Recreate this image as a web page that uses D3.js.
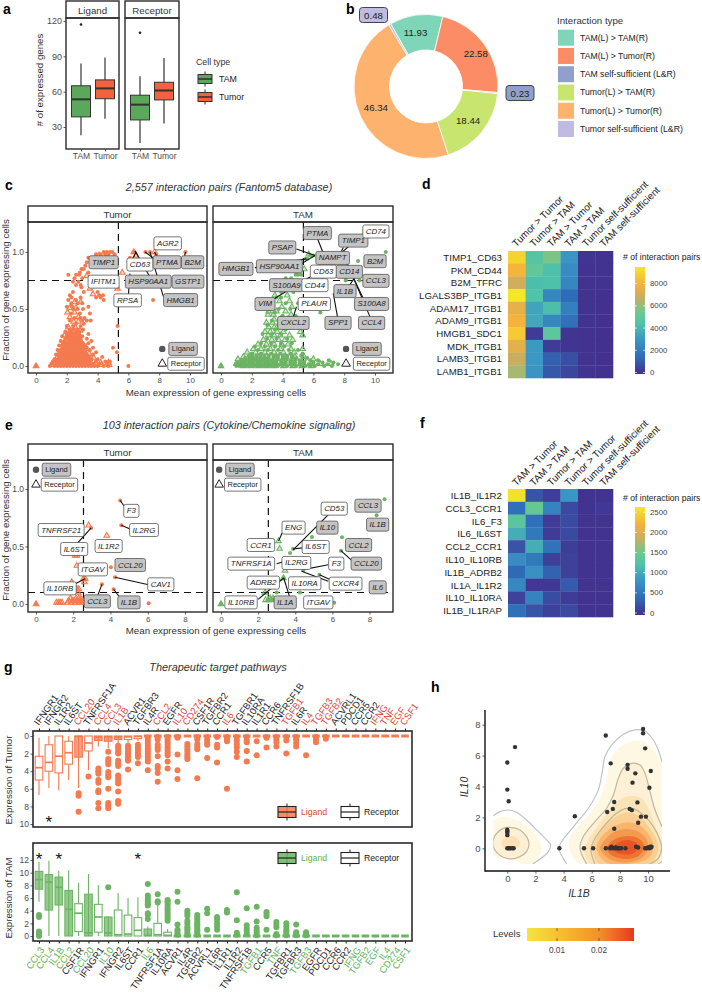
<!DOCTYPE html>
<html><head><meta charset="utf-8">
<script src="https://cdn.jsdelivr.net/npm/d3@7/dist/d3.min.js"></script>
<style>
html,body{margin:0;padding:0;background:#fff}
svg{display:block}
text{font-family:"Liberation Sans",Arial,sans-serif}
</style></head><body><div id="c"></div>
<script>
/* ---------- panel a ---------- */
const cellTypes=["TAM","Tumor"];
const geneKinds=["Ligand","Receptor"];
const boxesA={Ligand:[[23,38.6,53.5,65,84,[117]],[37,54,62.8,70,89,[]]],Receptor:[[16.5,36,49,57,73,[110]],[33,53,61,68,88.5,[]]]};
/* ---------- panel b ---------- */
const interactionTypes=["TAM(L) > TAM(R)","TAM(L) > Tumor(R)","TAM self-sufficient (L&R)","Tumor(L) > TAM(R)","Tumor(L) > Tumor(R)","Tumor self-sufficient (L&R)"];
const interactionValues=[11.93,22.58,0.23,18.44,46.34,0.48];
const interactionColors=["#7fd5b7","#fb8c66","#8fa1cb","#c8e66f","#fdb26e","#bfbbe1"];
/* ---------- panel c points: [y,[x...]] rows ---------- */
const cTumorLigand=[[1.0,[4.4,4.6,4.8,4.95,6.35,7.1,7.4,9.7]],[.98,[3.9,4.2,4.5,4.7,5.1,7.8]],[.95,[3.4,3.7,4.0,6.1]],[.91,[3.3,3.55]],[.88,[3.2]],[.85,[2.95,3.1]],[.82,[2.85,3.4]],[.8,[2.1,2.6,2.8]],[.77,[2.5,3.0]],[.74,[2.4,2.75]],[.71,[2.6,2.9]],[.69,[2.95,5.3]],[.65,[3.1,2.4,4.0]],[.62,[2.2,4.1,4.35]],[.6,[2.9,2.3,3.9,4.2]],[.58,[2.6,2.1,4.4,7.6]],[.55,[3.0,2.3,2.7]],[.52,[2.0,2.35,3.4]],[.5,[2.7,3.05,2.4]],[.46,[2.3,2.85,3.5]],[.42,[2.5,2.9,3.15]],[.4,[2.2,3.0,3.3,3.55]],[.37,[2.6,3.1]],[.35,[2.0,2.4,2.9,5.3]],[.32,[2.2,2.4,2.7,3.05]],[.3,[1.9,2.15,2.3,2.6,2.8]],[.28,[2.0,2.2,2.4,2.6,2.8,3.4]],[.26,[1.7,2.0,2.2,2.4,2.6,2.8,3.0]],[.24,[1.9,2.1,2.3,2.5,2.7,2.9,3.3]],[.22,[1.6,1.85,2.1,2.3,2.5,2.7,2.9,3.6]],[.2,[1.8,2.0,2.2,2.4,2.6,2.8,3.05,3.4]],[.18,[1.5,1.7,1.9,2.15,2.4,2.6,2.8,3.0,3.2]],[.16,[1.7,1.9,2.1,2.3,2.5,2.7,2.9,3.1,3.3,3.7,5.0]],[.14,[1.4,1.6,1.8,2.0,2.2,2.4,2.6,2.8,3.0,3.2,3.5]],[.12,[1.6,1.8,2.0,2.2,2.4,2.6,2.85,3.0,3.2,3.9,5.25]],[.1,[1.3,1.5,1.7,1.9,2.1,2.3,2.5,2.7,2.9,3.1,3.3,3.7]],[.08,[1.5,1.7,1.9,2.1,2.3,2.5,2.7,2.9,3.1,3.3,3.5,4.3]],[.06,[1.2,1.4,1.6,1.8,2.0,2.2,2.4,2.6,2.8,3.0,3.2,3.4,3.6,4.0]],[.04,[1.1,1.3,1.5,1.7,1.9,2.1,2.3,2.5,2.7,2.9,3.1,3.3,3.5,3.9,4.5,4.8]],[.02,[1.0,1.3,1.5,1.7,1.9,2.1,2.3,2.5,2.7,2.9,3.1,3.3,3.5,3.7,4.1,4.6]],[0,[0,.9,1.2,1.4,1.6,1.8,2.0,2.2,2.4,2.6,2.8,3.0,3.2,3.4,3.6,3.8,4.0,4.4,4.7,6.0]]];
const cTumorReceptor=[[1.0,[6.35,7.7]],[.97,[4.1,6.5]],[.82,[5.6]],[.79,[3.3]],[.68,[3.5,5.3]],[.63,[3.7]],[.56,[2.5,2.9]],[.51,[2.2,2.6]],[.47,[2.05,2.5]],[.43,[2.2,2.75]],[.39,[2.45,2.75]],[.34,[2.1,2.55]],[.31,[2.45,2.85]],[.27,[1.85,2.5]],[.23,[2.05,2.45,2.85]],[.19,[1.75,2.25,2.7,3.0]],[.15,[1.95,2.35,2.75,3.15]],[.11,[1.5,1.85,2.3,2.65,3.05,3.45]],[.07,[1.35,1.75,2.15,2.55,2.95,3.35,3.75]],[.03,[1.2,1.6,2.0,2.4,2.75,3.15,3.55,4.2,4.7]],[.01,[1.05,1.45,1.85,2.25,2.65,3.0,3.4,3.8,4.25,4.75]],[0,[0]]];
const cTamLigand=[[1.0,[10.7]],[.97,[6.0,5.8]],[.94,[5.6,5.5]],[.92,[8.9]],[.8,[5.2,5.0,4.85]],[.77,[4.2,4.55,8.1]],[.75,[9.0,8.1]],[.72,[4.5,4.0]],[.65,[3.9,4.7]],[.6,[3.6,3.9]],[.55,[4.2,5.0]],[.5,[3.75,4.5]],[.47,[6.45,3.5]],[.44,[4.0,4.85]],[.4,[3.3,4.1]],[.36,[3.0,3.7,4.5]],[.32,[3.5,4.2]],[.28,[2.7,3.3,3.9]],[.24,[3.0,3.6,4.3]],[.2,[2.6,3.25,3.9,4.6]],[.17,[2.2,2.85,3.5,4.1]],[.14,[2.4,3.05,3.7,4.4,5.0]],[.11,[2.0,2.6,3.25,3.85,4.5,5.3]],[.09,[1.8,2.05,2.3,2.55,2.8,3.1,3.4,3.7,4.0,4.3,4.6,5.2]],[.07,[1.6,1.85,2.1,2.35,2.6,2.85,3.1,3.4,3.7,4.0,4.3,4.6,4.9,5.6]],[.05,[1.3,1.55,1.8,2.05,2.3,2.55,2.8,3.05,3.3,3.6,3.9,4.2,4.5,4.8,5.1,5.8,6.3,7.0]],[.03,[1.1,1.35,1.6,1.85,2.1,2.35,2.6,2.85,3.1,3.35,3.6,3.9,4.2,4.5,4.8,5.1,5.4,6.0,6.6,7.3,9.0]],[.015,[.95,1.2,1.4,1.65,1.9,2.15,2.4,2.65,2.9,3.15,3.4,3.65,3.9,4.2,4.5,4.8,5.1,5.4,5.7,6.3,6.9,7.6]],[0,[0,1.0,1.2,1.45,1.7,1.95,2.2,2.45,2.7,2.95,3.2,3.45,3.7,4.0,4.3,4.6,4.9,5.2,5.5,5.8,6.1,6.7,7.2]]];
const cTamReceptor=[[.98,[5.7]],[.85,[4.9,5.4]],[.72,[3.4,3.7]],[.62,[4.3,3.5]],[.57,[3.8,4.45]],[.52,[3.2,3.95,4.6]],[.48,[3.1,3.6,4.2]],[.45,[3.05,3.4,4.55]],[.41,[3.45,3.85,4.3]],[.38,[2.95,3.35,3.95]],[.34,[3.1,3.45,3.85,4.3,5.2]],[.3,[2.85,3.2,3.65,4.05,5.15]],[.27,[3.05,3.45,3.85,4.45,5.3]],[.23,[2.75,3.3,3.75,4.15,4.65]],[.19,[2.4,2.95,3.45,3.95,4.35]],[.15,[2.1,2.6,3.2,3.85,4.55,5.3]],[.12,[1.7,2.25,2.85,3.45,4.05,4.75]],[.08,[1.45,1.95,2.45,2.95,3.55,4.15,4.8,5.4]],[.06,[1.1,1.55,2.05,2.55,3.05,3.55,4.15,4.7,5.35,6.0]],[.02,[1.0,1.5,2.0,2.5,3.0,3.5,4.0,4.65,5.25,5.85,6.45,7.15]],[0,[0,1.45,1.95,2.45,2.95,3.45,4.05,4.65,5.25,5.85]]];
/* ---------- panel c labels ---------- */
const cTumorLabels=[["TIMP1",4.39,.91,1],["CD63",6.75,.89,0],["PTMA",8.51,.91,1],["B2M",10.17,.91,1],["AGR2",8.55,1.076,0],["IFITM1",4.39,.74,0],["HSP90AA1",7.29,.74,1],["GSTP1",9.87,.74,1],["RPSA",5.95,.576,0],["HMGB1",9.39,.578,1]];
const cTumorLinks=[[6.43,1.01,7.4,.78],[7.4,1.0,8.27,.61],[7.08,1.0,7.8,.93],[6.5,1.0,6.2,.92],[6.1,.81,6.0,.62],[9.72,1.0,9.6,.95],[7.7,1.0,8.0,.92]];
const cTamLabels=[["PTMA",6.26,1.166,1],["TIMP1",8.59,1.1,1],["CD74",10.06,1.18,0],["PSAP",3.98,1.04,1],["NAMPT",7.25,.948,1],["HSP90AA1",3.79,.875,1],["HMGB1",.97,.852,1],["B2M",10,.919,1],["CD63",6.65,.828,0],["CD14",8.33,.826,1],["CCL3",10.06,.747,1],["S100A9",4.26,.709,1],["CD44",6.1,.709,0],["IL1B",8.05,.657,1],["S100A8",9.78,.544,1],["VIM",2.86,.544,1],["PLAUR",6.06,.544,0],["CXCL2",4.7,.378,1],["SPP1",7.6,.378,1],["CCL4",9.78,.378,1]];
const cTamLinks=[[6.26,1.12,6.65,.985],[9.24,1.16,7.5,.956],[4.9,1.026,6.1,.97],[5.24,.898,6.1,.97],[2.2,.863,5.56,.94],[2.97,.55,5.78,.78],[8.16,.913,9.67,.433],[8.16,.898,9.24,.593],[7.29,.637,7.58,.42],[7.94,1.04,7.62,.95],[8.3,.7,8.7,.78],[4.7,.433,4.9,.52]];
/* ---------- panel e ---------- */
const eTumorLigand=[[.9,[4.52]],[.684,[4.58]],[.661,[2.96]],[.319,[4.02]],[.232,[4.24]],[.171,[3.54]],[.128,[4.17]],[.006,[6.05]],[0,[0]]];
const eTumorReceptor=[[.684,[2.82]],[.594,[3.8]],[.42,[2.1,2.2]],[.333,[2.19]],[.22,[2.64,2.55]],[.19,[1.92,2.6]],[.13,[2.3,2.2]],[.1,[2.25]],[.05,[1.85,2.15,2.3,2.4]],[.03,[1.75,1.95,2.05,2.2,2.35,2.5]],[.012,[1.1,1.2,1.3,1.4,1.7,1.9,2.1,2.3,2.45,2.55]],[0,[0]]];
const eTumorLabels=[["F3",5.12,.81,0],["TNFRSF21",1.35,.643,0],["IL2RG",5.8,.643,0],["IL6ST",2.05,.478,0],["IL1R2",3.9,.504,0],["CCL20",5.06,.339,1],["ITGAV",3.05,.301,0],["CAV1",6.7,.171,0],["IL10RB",1.29,.136,0],["CCL3",3.29,.023,1],["IL1B",4.99,.014,1]];
const eTumorLinks=[[4.52,.9,4.74,.85],[4.58,.684,5.15,.646],[2.96,.661,2.23,.53],[4.24,.232,6.05,.168],[3.54,.171,3.3,.067],[4.17,.128,4.52,.052],[2.64,.22,1.92,.16]];
const eTamLigand=[[.91,[8.81]],[.771,[8.38]],[.58,[6.52]],[.583,[4.9]],[.464,[6.46]],[.478,[3.88]],[.443,[3.72]],[.293,[4.43]],[.255,[5.3]],[.226,[3.38]],[.1,[4.25,3.0]],[.04,[2.8]],[.01,[6.1]],[0,[0]]];
const eTamReceptor=[[.548,[3.1]],[.481,[3.16]],[.29,[3.45]],[.226,[3.36]],[.1,[2.37]],[.05,[2.65,2.8]],[.035,[2.4,2.55,2.7]],[0,[0]]];
const eTamLabels=[["CD53",6.1,.829,0],["CCL3",7.92,.855,1],["IL1B",8.44,.69,1],["ENG",3.91,.664,0],["IL10",5.73,.664,1],["CCR1",2.15,.513,0],["IL6ST",5.1,.496,0],["CCL2",7.41,.513,1],["TNFRSF1A",1.63,.351,0],["IL2RG",4.06,.357,0],["F3",6.21,.351,0],["CCL20",7.83,.351,1],["ADRB2",2.28,.186,0],["IL10RA",4.51,.18,0],["CXCR4",6.71,.177,0],["IL6",8.44,.145,1],["IL10RB",1.08,.014,0],["IL1A",3.46,.014,1],["ITGAV",5.24,.014,0]];
const eTamLinks=[[5.96,.806,3.9,.473],[3.3,.62,3.1,.548],[4.5,.49,3.88,.478],[5.78,.342,4.43,.299],[5.87,.212,5.3,.255],[4.34,.284,5.78,.197],[2.0,.04,3.38,.226],[6.46,.464,7.04,.38],[3.0,.35,3.4,.37],[3.7,.06,3.38,.226]];
/* ---------- panels d, f ---------- */
const dRows=["TIMP1_CD63","PKM_CD44","B2M_TFRC","LGALS3BP_ITGB1","ADAM17_ITGB1","ADAM9_ITGB1","HMGB1_SDC1","MDK_ITGB1","LAMB3_ITGB1","LAMB1_ITGB1"];
const dCols=["Tumor > Tumor","Tumor > TAM","TAM > Tumor","TAM > TAM","Tumor self-sufficient","TAM self-sufficient"];
const dValues=[[9000,4800,5700,3000,150,100],[8100,5100,4400,2700,100,100],[7000,4300,4400,2500,100,100],[9500,4500,2500,1500,100,50],[7600,3500,4300,2200,100,50],[8000,3600,2500,1700,100,50],[8700,300,5000,150,100,50],[7500,3200,300,150,100,50],[6800,3100,1200,800,100,50],[6300,3000,1000,600,100,50]];
const fRows=["IL1B_IL1R2","CCL3_CCR1","IL6_F3","IL6_IL6ST","CCL2_CCR1","IL10_IL10RB","IL1B_ADRB2","IL1A_IL1R2","IL10_IL10RA","IL1B_IL1RAP"];
const fCols=["TAM > Tumor","TAM > TAM","Tumor > TAM","Tumor > Tumor","Tumor self-sufficient","TAM self-sufficient"];
const fValues=[[2600,250,100,850,30,30],[450,1450,650,180,30,60],[1350,450,80,200,30,30],[1050,550,80,180,30,30],[250,1050,480,100,30,30],[750,550,120,120,30,30],[400,800,350,120,30,30],[700,60,60,300,30,30],[130,650,200,90,30,30],[450,250,120,180,30,30]];
const parulaFractions=[0,.16,.32,.47,.58,.71,.84,1];
const parulaColors=["#432f8e","#2f6db8","#3a95c4","#4fc3a9","#6dc98d","#c8ae62","#f5b13c","#f4e629"];
/* ---------- panel g ---------- */
const gTopNames=["IFNGR1","IFNGR2","IL1R2","IL6ST","CCL20","TNFRSF1A","CCL4","CCL3","IL1B","ACVR1","TGFBR3","IL4R","CCL2","EGFR","IL10","CD274","CSF1R","TGFBR2","CCR1","IL6","TGFBR1","IL10RA","IL1R1","CCR6","TNFRSF1B","TGFB1","IL6R","IL4","TGFB3","TGFB2","ACVRL1","PDCD1","CCR5","CCR2","IFNG","TNF","EGF","CSF1"];
const gTopLigands=["CCL20","CCL4","CCL3","IL1B","CCL2","IL10","CD274","IL6","TGFB1","IL4","TGFB3","TGFB2","IFNG","TNF","EGF","CSF1"];
/* each: [lo,q1,median,q3,hi,[outliers]] */
const gTopBoxes=[[.2,2.3,3.6,5,6.7,[]],[0,1,3,4,5.9,[]],[0,0,2.3,4.2,6.2,[]],[0,.6,1.9,3.2,5,[]],[0,0,.05,2.4,5.9,[6.5,6.8,8.6]],[0,0,.8,1.7,3.9,[4.6]],[0,0,.1,.5,1.2,[3.7,4,4.3,5,5.3,6.2,6.4,7.6,8.2]],[0,0,.1,.6,1.4,[1.8,2.6,2.9,3.2,4.1,4.4,4.7,6,7.6,7.9,8.2]],[0,0,.1,.4,.8,[1.1,1.4,1.7,2,2.8,3.1,3.4,4.5,4.8,5.1,5.4,6.3,7.4,7.7]],[0,0,.1,.4,.9,[1.1,1.4,1.7,2,2.3,2.6,2.8,3.8]],[0,0,.05,.3,.6,[1,1.3,1.6,1.9,2.2,2.4,3.1]],[0,0,0,0,0,[.2,.5,.8,1.1,1.4,1.7,2,2.3,2.6,2.9,3.9]],[0,0,0,0,0,[.1,.4,1,1.3,1.6,2.3,3.4,3.7,4.2,5.2]],[0,0,0,0,0,[.1,.4,.7,1,1.3,1.6,1.9,2.2,2.9,3.7]],[0,0,0,0,0,[.1,.2,2.1,3.9,4.9]],[0,0,0,0,0,[.9,1.2,1.5,1.8,2.1,2.4,2.6]],[0,0,0,0,0,[.1,.4,.9,1.2,1.5,4.8]],[0,0,0,0,0,[.1,.4,.7,1,2.5]],[0,0,0,0,0,[.1,1,1.3,3]],[0,0,0,0,0,[.1,.4,.6,6]],[0,0,0,0,0,[.1,.5,.9,1.3,1.8,2.4]],[0,0,0,0,0,[.1,.5,.7,1.7,2.9]],[0,0,0,0,0,[.6,2.2]],[0,0,0,0,0,[.1,.2,1.3]],[0,0,0,0,0,[.1,.4,.7,1.2]],[0,0,0,0,0,[.1,.5,2]],[0,0,0,0,0,[.1,.4,.8,1.2]],[0,0,0,0,0,[2.2]],[0,0,0,0,0,[.1,.4,.7]],[0,0,0,0,0,[.1,.3]],[0,0,0,0,0,[]],[0,0,0,0,0,[]],[0,0,0,0,0,[]],[0,0,0,0,0,[]],[0,0,0,0,0,[]],[0,0,0,0,0,[]],[0,0,0,0,0,[]],[0,0,0,0,0,[]]];
const gBottomNames=["CCL3","CCL4","IL1B","CCL2","CSF1R","CCL20","IFNGR1","IL10","IFNGR2","IL6ST","CCR1","IL6","TNFRSF1A","IL10RA","ACVR1","IL4R","TGFBR2","ACVRL1","IL6R","IL1R1","IL1R2","TNFRSF1B","TGFB1","CCR5","TNF","TGFBR1","TGFBR3","TGFB3","EGFR","PDCD1","CCR6","CCR2","IFNG","TGFB2","EGF","IL4","CD274","CSF1"];
const gBottomLigands=["CCL3","CCL4","IL1B","CCL2","CCL20","IL10","IL6","TGFB1","TNF","TGFB3","IFNG","TGFB2","EGF","IL4","CD274","CSF1"];
const gBottomBoxes=[[5.4,7.4,8.9,10.2,11.7,[3,3.3,0,.3,.7]],[0,4.1,8.5,9.7,11.9,[]],[0,4.9,7.7,9.3,10.3,[]],[0,0,4.2,7.2,10.4,[]],[0,.7,3.6,5.1,8.4,[]],[0,0,.5,6.6,9.8,[]],[0,.6,3,5,8,[]],[0,0,.5,3,3.1,[7.7]],[0,0,.2,4.1,6.8,[]],[0,0,.3,3.3,6,[]],[0,0,.9,2.9,6.1,[]],[0,0,.1,1.1,1.5,[2.7,3.3,3.6,4.8,5,5.3,5.6,6,6.4,8.2]],[0,0,.2,2,4.9,[5.3,5.5,6.6]],[0,0,.1,.6,1.1,[2.4,2.8,3.2,3.6,4,4.4,4.8,5.2,5.5,5.7]],[0,0,0,0,0,[.2,.4,.8,1,1.8,5.4,7]],[0,0,0,0,0,[.2,.5,.9,1.2,1.5,2,2.4,3.2,3.6,4]],[0,0,0,0,0,[.2,.4,.7,1,1.3,1.6,1.9,2.2,2.6,3,3.3]],[0,0,0,0,0,[1,3.6,4.3]],[0,0,0,0,0,[1,1.5,2,2.6,3]],[0,0,0,0,0,[3.7,4.1]],[0,0,0,0,0,[.2,.5,2.5,6.9]],[0,0,0,0,0,[.3,.8,1.2,1.7,4.4]],[0,0,0,0,0,[.1,.5,.9,1.3,2.3,4.6]],[0,0,0,0,0,[1,3.1,3.5,3.8]],[0,0,0,0,0,[.1,.3,1.4,1.8,2.2]],[0,0,0,0,0,[.1,.3,.7,1,1.5,2]],[0,0,0,0,0,[.1,.3,.6,1.8]],[0,0,0,0,0,[.1,.3,.6]],[0,0,0,0,0,[]],[0,0,0,0,0,[]],[0,0,0,0,0,[]],[0,0,0,0,0,[]],[0,0,0,0,0,[]],[0,0,0,0,0,[]],[0,0,0,0,0,[]],[0,0,0,0,0,[]],[0,0,0,0,0,[]],[0,0,0,0,0,[]]];
/* ---------- panel h ---------- */
const hPoints=[[0,0],[.1,0],[.2,0],[.35,0],[.45,0],[0,.85],[0,1],[0,1.1],[0,1.2],[.1,3.05],[0,3.8],[0,5.55],[.55,6.55],[3.7,0],[4.8,2.07],[5.45,0],[6.1,0],[7,0],[7,7.3],[7.35,5.5],[7.1,2.35],[7.5,2.55],[7.6,3],[7.6,1.27],[8.55,5.4],[8.55,5.15],[9.1,4.85],[8.9,4.25],[9.25,2.97],[8.7,2.55],[8.85,2.47],[9.3,1.65],[9.5,2.05],[9.85,2.05],[9.65,7.72],[9.65,7.45],[9.8,6.47],[10.2,5],[10.1,3.92],[7.3,0],[7.4,.1],[7.45,0],[7.6,0],[7.7,.05],[7.8,0],[7.9,0],[8,0],[8.1,0],[8.4,0],[9.15,.1],[9.3,.05],[9.8,0],[9.9,0],[10,.05],[10.1,0],[10.15,.1],[10.2,.05],[10.25,.1]];
/* density bands, in IL1B / IL10 units */
const hBands=[
 [[-1,1.73],[-.4,2.03],[.31,1.94],[1.14,1.62],[1.85,1.08],[2.32,.43],[2.44,0],[2.2,-.54],[1.73,-.97],[1.02,-1.05],[.78,-.86],[.07,-.69],[-1,-.43]],
 [[-1,.54],[-.76,.97],[-.28,1.29],[.31,1.34],[.9,1.19],[1.37,.76],[1.54,.32],[1.37,-.22],[.9,-.54],[.31,-.69],[-.28,-.58],[-.76,-.26],[-1,.11]],
 [[-.4,.32],[-.21,.65],[.26,.8],[.66,.69],[.9,.32],[.71,0],[.26,-.17],[-.21,-.04]],
 [[5.17,-1.05],[4.34,.32],[4.81,1.19],[5.76,2.16],[6.59,3.24],[7.06,4.53],[7.3,5.61],[7.77,6.36],[8.48,6.8],[9.31,6.97],[9.91,6.8],[10.38,6.36],[10.73,5.93],[11.1,5.4],[11.2,2],[11.2,-1.2]],
 [[5.64,-1.05],[5.17,0],[5.4,.76],[6.23,1.73],[7.06,2.59],[7.54,3.45],[7.89,4.53],[8.25,5.18],[8.84,5.5],[9.43,5.39],[9.79,4.85],[10.14,3.67],[10.5,2.48],[10.85,1.6],[11.2,1.2],[11.3,-.5],[11,-1.2]],
 [[6,-1.05],[5.47,-.22],[5.64,.32],[6.47,1.51],[7.42,2.59],[8.13,3.24],[8.84,3.39],[9.55,3.24],[10.02,2.59],[10.38,1.73],[10.85,.65],[10.97,0],[10.85,-.65],[10.5,-1.05]],
 [[6.11,-.43],[6.11,.11],[6.59,1.08],[7.54,1.94],[8.48,2.33],[9.43,2.05],[10.14,1.29],[10.62,.54],[10.73,0],[10.5,-.65],[10.02,-1.05],[6.59,-1.05]],
 [[6.35,0],[6.71,.76],[7.54,1.4],[8.48,1.68],[9.43,1.47],[10.14,.76],[10.38,.11],[10.14,-.54],[9.55,-.86],[8.48,-1.01],[7.18,-.97],[6.59,-.54]],
 [[6.59,0],[6.94,.54],[7.65,1.08],[8.48,1.25],[9.31,1.08],[9.91,.54],[10.02,0],[9.67,-.54],[8.96,-.86],[8.01,-.91],[7.18,-.65]],
 [[7.06,0],[7.54,.54],[8.48,.8],[9.31,.65],[9.74,.11],[9.43,-.43],[8.6,-.69],[7.77,-.6],[7.23,-.32]],
 [[7.54,.11],[8.01,.43],[8.6,.54],[9.19,.32],[9.31,0],[8.84,-.37],[8.13,-.37],[7.65,-.22]]
];
const hBandColors=["#fef8e2","#fdf0d6","#fde0b6","#fef8e2","#fdf0d6","#fbe3b8","#fbcf93","#f9b56c","#f49a50","#ef7330","#e95426"];
const hOutlines=[
 [[-1,2.11],[-.52,2.37],[.07,2.48],[.66,2.33],[1.37,1.83],[2.09,1.19],[2.8,.54],[3.08,.22],[2.91,-.22],[2.32,-.71],[1.78,-1.01]],
 [[4.22,-1.01],[3.67,0],[3.86,.43],[4.81,1.51],[5.76,2.59],[6.47,3.78],[6.75,4.96],[6.94,5.93],[7.42,6.69],[8.25,7.38],[9.08,7.66],[9.79,7.59],[10.38,7.01],[10.73,6.36],[11,5.6]],
 [[10.73,-1.01],[11,-.86]]
];
const hInnerLines=[
 [[-1,.54],[-.76,.97],[-.28,1.29],[.31,1.34],[.9,1.19],[1.37,.76],[1.54,.32],[1.37,-.22],[.9,-.54],[.31,-.69],[-.28,-.58],[-.76,-.26],[-1,.11]],
 [[5.64,-1.01],[5.17,0],[5.4,.76],[6.23,1.73],[7.06,2.59],[7.54,3.45],[7.89,4.53],[8.25,5.18],[8.84,5.5],[9.43,5.39],[9.79,4.85],[10.14,3.67],[10.5,2.48],[11,1.4]],
 [[6.23,-1.01],[5.95,-.11],[6.23,.65],[6.94,1.51],[7.77,2.27],[8.48,2.59],[9.08,2.52],[9.79,2.05],[10.38,1.4],[10.85,.54],[10.97,0],[10.73,-.65],[10.14,-1.01]]
];

/* ========== drawing ========== */
const W=702,H=994;
const svg=d3.select("#c").append("svg").attr("width",W).attr("height",H).attr("viewBox",`0 0 ${W} ${H}`);
const dark="#2b2b2b", tickGrey="#4d4d4d";
const expand=rows=>rows.flatMap(([y,xs])=>xs.map(x=>[x,y]));
function txt(g,x,y,s,o={}){const t=g.append("text").attr("x",x).attr("y",y).text(s).attr("font-size",o.size||9).attr("fill",o.fill||"#222").attr("text-anchor",o.anchor||"start").attr("dominant-baseline","central");
 if(o.italic)t.attr("font-style","italic"); if(o.weight)t.attr("font-weight",o.weight); if(o.rot!==undefined)t.attr("transform",`rotate(${o.rot},${x},${y})`); return t;}
function styleAxis(a,size){a.select(".domain").remove();a.selectAll(".tick line").attr("stroke","#333").attr("stroke-width",.8);a.selectAll(".tick text").attr("font-size",size||8).attr("fill",tickGrey).attr("font-family",'"Liberation Sans",Arial,sans-serif');}
function frame(g,x0,x1,y0,y1,sw){g.append("rect").attr("x",x0).attr("y",y0).attr("width",x1-x0).attr("height",y1-y0).attr("fill","none").attr("stroke",dark).attr("stroke-width",sw||1.4);}
[["a",3,9],["b",346,9],["c",5,185],["d",422,184],["e",5,425],["f",420,423],["g",4,667],["h",431,687]].forEach(([s,x,y])=>txt(svg,x,y,s,{size:14,weight:"bold",fill:"#000",anchor:"start"}));

/* panel a */
(function(){
 const g=svg.append("g");
 const y=d3.scaleLinear().domain([30,120]).range([127,21]);
 const panels=[["Ligand",66,119],["Receptor",125,179]];
 const col={TAM:"#5aa85a",Tumor:"#f2623c"};
 panels.forEach(([name,x0,x1],pi)=>{
  const x=d3.scalePoint().domain(cellTypes).range([x0+15,x0+39]);
  frame(g,x0,x1,1,18); frame(g,x0,x1,18,149);
  txt(g,(x0+x1)/2,10,name,{size:9.7,anchor:"middle",fill:"#333"});
  g.append("g").attr("transform","translate(0,149)").call(d3.axisBottom(x).tickSize(2.5).tickPadding(1.5)).call(a=>styleAxis(a,8.5));
  if(pi==0)g.append("g").attr("transform",`translate(${x0},0)`).call(d3.axisLeft(y).tickValues([30,60,90,120]).tickSize(2.5).tickPadding(1.5)).call(a=>styleAxis(a,9));
  boxesA[name].forEach((b,i)=>{
   const cx=x(cellTypes[i]),w=19;
   g.append("line").attr("x1",cx).attr("x2",cx).attr("y1",y(b[0])).attr("y2",y(b[4])).attr("stroke","#222").attr("stroke-width",1.1);
   g.append("rect").attr("x",cx-w/2).attr("width",w).attr("y",y(b[3])).attr("height",y(b[1])-y(b[3])).attr("fill",col[cellTypes[i]]).attr("stroke","#333").attr("stroke-width",1);
   g.append("line").attr("x1",cx-w/2).attr("x2",cx+w/2).attr("y1",y(b[2])).attr("y2",y(b[2])).attr("stroke","#333").attr("stroke-width",2);
   b[5].forEach(o=>g.append("circle").attr("cx",cx).attr("cy",y(o)).attr("r",1.3).attr("fill","#222"));
  });
 });
 txt(g,39,80,"# of expressed genes",{size:9.7,anchor:"middle",rot:-90,fill:"#333"});
 txt(g,196,62,"Cell type",{size:8.8,fill:"#333"});
 const ky=d3.scalePoint().domain(cellTypes).range([79,97]);
 cellTypes.forEach(c=>{const cy=ky(c);
  g.append("line").attr("x1",205).attr("x2",205).attr("y1",cy-7.5).attr("y2",cy+7.5).attr("stroke","#222");
  g.append("rect").attr("x",198).attr("y",cy-4.5).attr("width",14).attr("height",9).attr("fill",col[c]).attr("stroke","#333");
  g.append("line").attr("x1",198).attr("x2",212).attr("y1",cy).attr("y2",cy).attr("stroke","#333").attr("stroke-width",1.6);
  txt(g,219,cy,c,{size:8.8,fill:"#222"});
 });
})();

/* panel b */
(function(){
 const g=svg.append("g").attr("transform","translate(426,86.5)");
 const pie=d3.pie().sort(null).startAngle(-29.4*Math.PI/180).endAngle((360-29.4)*Math.PI/180);
 const arcs=pie(interactionValues);
 const arc=d3.arc().innerRadius(36.5).outerRadius(72);
 g.selectAll("path").data(arcs).join("path").attr("d",arc).attr("fill",(d,i)=>interactionColors[i]).attr("stroke","#fff").attr("stroke-width",.8);
 const lab=d3.arc().innerRadius(54).outerRadius(54);
 arcs.forEach((a,i)=>{
  if(interactionValues[i]<1)return;
  const off={0:[-3,-1],1:[6,-1],3:[0,0],4:[-1,-1]}[i];
  const c=lab.centroid(a);
  txt(g,c[0]+off[0],c[1]+off[1],interactionValues[i].toFixed(2),{size:9.7,anchor:"middle",fill:"#222"});
 });
 const callouts=[[5,373.5,15],[2,520,93]];
 callouts.forEach(([i,px,py])=>{
  svg.append("rect").attr("x",px-14).attr("y",py-7.5).attr("width",28).attr("height",15).attr("rx",3).attr("fill",interactionColors[i]).attr("stroke","#444").attr("stroke-width",1);
  txt(svg,px,py,interactionValues[i].toFixed(2),{size:9.7,anchor:"middle",fill:"#222"});
 });
 txt(svg,557,20,"Interaction type",{size:9.7,fill:"#333"});
 const ky=d3.scalePoint().domain(interactionTypes).range([37.7,129]);
 interactionTypes.forEach((t,i)=>{
  svg.append("rect").attr("x",558).attr("y",ky(t)-8).attr("width",16).attr("height",16).attr("fill",interactionColors[i]);
  txt(svg,580,ky(t),t,{size:8.7,fill:"#222"});
 });
})();

/* scatter facets */
function label(g,x,y,s,grey,o={}){
 const n=g.append("g");
 const t=txt(n,x,y,s,{size:o.size||7.9,anchor:"middle",italic:o.italic!==false,fill:"#222"});
 const w=t.node().getComputedTextLength()+6;
 n.insert("rect","text").attr("x",x-w/2).attr("y",y-6.5).attr("width",w).attr("height",13).attr("rx",2).attr("fill",grey?"#c4c4c4":"#fff").attr("stroke","#555").attr("stroke-width",.8);
}
function scatterFacet(g,cfg){
 const {x0,x1,top,stripB,bottom,title,x,y,color,lig,rec,labels,links,dashX,dashY,legend,xTicks,left}=cfg;
 g.append("rect").attr("x",x0).attr("y",stripB).attr("width",x1-x0).attr("height",bottom-stripB).attr("fill","#fff");
 const clipId="clip"+title+top;
 g.append("clipPath").attr("id",clipId).append("rect").attr("x",x0).attr("y",stripB).attr("width",x1-x0).attr("height",bottom-stripB);
 const p=g.append("g").attr("clip-path",`url(#${clipId})`);
 p.append("line").attr("x1",x(dashX)).attr("x2",x(dashX)).attr("y1",stripB).attr("y2",bottom).attr("stroke","#111").attr("stroke-width",1.2).attr("stroke-dasharray","7,5");
 p.append("line").attr("x1",x0).attr("x2",x1).attr("y1",y(dashY)).attr("y2",y(dashY)).attr("stroke","#111").attr("stroke-width",1.2).attr("stroke-dasharray","7,5");
 p.selectAll("circle.pt").data(lig).join("circle").attr("class","pt").attr("cx",d=>x(d[0])).attr("cy",d=>y(d[1])).attr("r",cfg.r||2).attr("fill",color);
 const tri=d3.symbol().type(d3.symbolTriangle).size(cfg.tri||14)();
 p.selectAll("path.tr").data(rec).join("path").attr("class","tr").attr("d",tri).attr("transform",d=>`translate(${x(d[0])},${y(d[1])})`).attr("fill",color).attr("fill-opacity",.3).attr("stroke",color).attr("stroke-width",1.05);
 p.selectAll("line.lk").data(links).join("line").attr("class","lk").attr("x1",d=>x(d[0])).attr("y1",d=>y(d[1])).attr("x2",d=>x(d[2])).attr("y2",d=>y(d[3])).attr("stroke","#111").attr("stroke-width",1.1);
 labels.forEach(([s,lx,ly,gr])=>label(g,x(lx),y(ly),s,gr));
 const [sx,ly1,lx1,ly2,lx2]=legend;
 g.append("circle").attr("cx",x(sx)).attr("cy",y(ly1)).attr("r",3.2).attr("fill","#555");
 g.append("path").attr("d",d3.symbol().type(d3.symbolTriangle).size(32)()).attr("transform",`translate(${x(sx)},${y(ly2)})`).attr("fill","none").attr("stroke","#222").attr("stroke-width",1);
 label(g,x(lx1),y(ly1),"Ligand",true,{italic:false,size:7.5});
 label(g,x(lx2),y(ly2),"Receptor",false,{italic:false,size:7.5});
 frame(g,x0,x1,top,stripB); frame(g,x0,x1,stripB,bottom);
 txt(g,(x0+x1)/2,(top+stripB)/2,title,{size:9.8,anchor:"middle",fill:"#333"});
 g.append("g").attr("transform",`translate(0,${bottom})`).call(d3.axisBottom(x).tickValues(xTicks).tickFormat(d3.format("d")).tickSize(2.5).tickPadding(2)).call(a=>styleAxis(a,8));
 if(left)g.append("g").attr("transform",`translate(${x0},0)`).call(d3.axisLeft(y).tickValues([0,.5,1]).tickFormat(d3.format(".1f")).tickSize(2.5).tickPadding(1.5)).call(a=>styleAxis(a,8.5));
}
(function(){
 const g=svg.append("g");
 const y=d3.scaleLinear().domain([0,1]).range([366,252]);
 const xT=d3.scaleLinear().domain([0,10]).range([36,190]);
 const xM=d3.scaleLinear().domain([0,10]).range([221,375]);
 const ticks=[0,2,4,6,8,10];
 scatterFacet(g,{x0:28,x1:207,top:206,stripB:222,bottom:373,title:"Tumor",x:xT,y,color:"#f47a50",lig:expand(cTumorLigand),rec:expand(cTumorReceptor),labels:cTumorLabels,links:cTumorLinks,dashX:5.35,dashY:.75,legend:[8.2,.15,9.55,.02,9.74],xTicks:ticks,left:true});
 scatterFacet(g,{x0:213,x1:393,top:206,stripB:222,bottom:373,title:"TAM",x:xM,y,color:"#6cb464",lig:expand(cTamLigand),rec:expand(cTamReceptor),labels:cTamLabels,links:cTamLinks,dashX:5.35,dashY:.75,legend:[8.12,.15,9.48,.02,9.78],xTicks:ticks,left:false});
 txt(g,229,187,"2,557 interaction pairs (Fantom5 database)",{size:10.8,italic:true,anchor:"middle",fill:"#333"});
 txt(g,216,392,"Mean expression of gene expressing cells",{size:9.7,anchor:"middle",fill:"#333"});
 txt(g,5.5,290,"Fraction of gene expressing cells",{size:9.7,anchor:"middle",rot:-90,fill:"#333"});
 const yE=d3.scaleLinear().domain([0,1]).range([604,489]);
 const xTE=d3.scaleLinear().domain([0,8]).range([36,185]);
 const xME=d3.scaleLinear().domain([0,8]).range([221,369.5]);
 const tE=[0,2,4,6,8];
 scatterFacet(g,{x0:28,x1:207,top:444,stripB:460,bottom:612,title:"Tumor",x:xTE,y:yE,color:"#f47a50",lig:expand(eTumorLigand),rec:expand(eTumorReceptor),labels:eTumorLabels,links:eTumorLinks,dashX:2.55,dashY:.1,legend:[0,1.168,1.1,1.038,1.26],xTicks:tE,left:true});
 scatterFacet(g,{x0:213,x1:393,top:444,stripB:460,bottom:612,title:"TAM",x:xME,y:yE,color:"#6cb464",lig:expand(eTamLigand),rec:expand(eTamReceptor),labels:eTamLabels,links:eTamLinks,dashX:2.55,dashY:.1,legend:[-.1,1.168,1.02,1.038,1.17],xTicks:tE,left:false});
 txt(g,229,425,"103 interaction pairs (Cytokine/Chemokine signaling)",{size:10.8,italic:true,anchor:"middle",fill:"#333"});
 txt(g,216,630,"Mean expression of gene expressing cells",{size:9.7,anchor:"middle",fill:"#333"});
 txt(g,5.5,530,"Fraction of gene expressing cells",{size:9.7,anchor:"middle",rot:-90,fill:"#333"});
})();

/* heatmaps */
function heat(cfg){
 const {rows,cols,vals,top,bottom,barTop,barBot,ticks,max,titleY,rotY}=cfg;
 const g=svg.append("g");
 const x=d3.scaleBand().domain(cols).range([508,613]);
 const y=d3.scaleBand().domain(rows).range([top,bottom]);
 const col=d3.scaleLinear().domain(parulaFractions.map(f=>f*max)).range(parulaColors);
 rows.forEach((r,i)=>cols.forEach((c,j)=>{
  g.append("rect").attr("x",x(c)).attr("y",y(r)).attr("width",x.bandwidth()+.3).attr("height",y.bandwidth()+.3).attr("fill",col(vals[i][j]));
 }));
 rows.forEach(r=>txt(g,502,y(r)+y.bandwidth()/2,r,{size:9.7,anchor:"end",fill:"#222"}));
 cols.forEach(c=>{const px=x(c)+x.bandwidth()/2-3;txt(g,px,rotY,c,{size:9.9,rot:-45,fill:"#222"});});
 txt(g,623,titleY,"# of interaction pairs",{size:8.6,fill:"#222"});
 const cb=d3.scaleLinear().domain([0,max]).range([cfg.zeroY,barTop]);
 const id="grad"+top; const gr=svg.append("defs").append("linearGradient").attr("id",id).attr("x1",0).attr("x2",0).attr("y1",1).attr("y2",0);
 parulaFractions.forEach((f,i)=>gr.append("stop").attr("offset",f).attr("stop-color",parulaColors[i]));
 g.append("rect").attr("x",635).attr("y",barTop).attr("width",10).attr("height",barBot-barTop).attr("fill",`url(#${id})`);
 ticks.forEach(t=>{
  g.append("line").attr("x1",635).attr("x2",637).attr("y1",cb(t)).attr("y2",cb(t)).attr("stroke","#fff").attr("stroke-width",.7);
  g.append("line").attr("x1",643).attr("x2",645).attr("y1",cb(t)).attr("y2",cb(t)).attr("stroke","#fff").attr("stroke-width",.7);
  txt(g,650,cb(t),t,{size:7.8,fill:"#444"});
 });
}
heat({rows:dRows,cols:dCols,vals:dValues,top:251,bottom:378,barTop:267,barBot:374,ticks:[0,2000,4000,6000,8000],max:9500,zeroY:372.5,titleY:257,rotY:245});
heat({rows:fRows,cols:fCols,vals:fValues,top:489,bottom:617,barTop:507,barBot:615,ticks:[0,500,1000,1500,2000,2500],max:2630,zeroY:613,titleY:498,rotY:484});

/* panel g */
function boxPanel(cfg){
 const {names,boxes,ligands,top,bottom,y,color,ticksY,title,titleY,legendY,stars,redText}=cfg;
 const g=svg.append("g");
 const x=d3.scalePoint().domain(names).range([39,405]);
 g.append("rect").attr("x",33).attr("y",top).attr("width",379).attr("height",bottom-top).attr("fill","#fff");
 const w=7.6;
 boxes.forEach((b,i)=>{
  const n=names[i],cx=x(n),lg=ligands.includes(n);
  if(b[4]!==b[0])g.append("line").attr("x1",cx).attr("x2",cx).attr("y1",y(b[0])).attr("y2",y(b[4])).attr("stroke",color).attr("stroke-width",1.1);
  if(b[3]===b[1]){
   g.append("rect").attr("x",cx-w/2).attr("y",y(b[1])-1.5).attr("width",w).attr("height",3).attr("fill",color);
  } else {
   const t=Math.min(y(b[1]),y(b[3])),h=Math.abs(y(b[1])-y(b[3]));
   g.append("rect").attr("x",cx-w/2).attr("y",t).attr("width",w).attr("height",h).attr("fill",lg?color:"#fff").attr("fill-opacity",lg?.72:1).attr("stroke",color).attr("stroke-width",1.1);
   g.append("line").attr("x1",cx-w/2).attr("x2",cx+w/2).attr("y1",y(b[2])).attr("y2",y(b[2])).attr("stroke",color).attr("stroke-width",1.7);
  }
  b[5].forEach(o=>g.append("circle").attr("cx",cx).attr("cy",y(o)).attr("r",3).attr("fill",color));
 });
 frame(g,33,412,top,bottom,1.6);
 g.append("g").attr("transform",`translate(33,0)`).call(d3.axisLeft(y).tickValues(ticksY).tickSize(2.5).tickPadding(1.5).tickFormat(d3.format("d"))).call(a=>styleAxis(a,8.5));
 txt(g,8,titleY,title,{size:9.7,anchor:"middle",rot:-90,fill:"#333"});
 const axis=cfg.onTop?d3.axisTop(x):d3.axisBottom(x);
 const ag=g.append("g").attr("transform",`translate(0,${cfg.onTop?top:bottom})`).call(axis.tickSize(2.5).tickFormat(""));
 ag.select(".domain").remove(); ag.selectAll(".tick line").attr("stroke","#222");
 names.forEach(n=>{
  const c=ligands.includes(n)?redText:"#222";
  if(cfg.onTop)txt(g,x(n)-3,top-7,n,{size:9.5,rot:-55,fill:c});
  else txt(g,x(n)+3,bottom+7,n,{size:9.5,rot:-55,fill:c,anchor:"end"});
 });
 stars.forEach(([n,sy])=>txt(g,x(n),sy,"*",{size:17,anchor:"middle",fill:"#111"}));
 [[287,"Ligand",color,redText],[350,"Receptor","#fff","#222"]].forEach(([px,s,fc,tc],i)=>{
  const st="#222";
  g.append("line").attr("x1",px).attr("x2",px).attr("y1",legendY-8.5).attr("y2",legendY+8.5).attr("stroke",st);
  g.append("rect").attr("x",px-9).attr("y",legendY-5.5).attr("width",18).attr("height",11).attr("fill",fc).attr("fill-opacity",i?1:.85).attr("stroke",st).attr("stroke-width",1.1);
  g.append("line").attr("x1",px-9).attr("x2",px+9).attr("y1",legendY).attr("y2",legendY).attr("stroke",st).attr("stroke-width",1.2);
  txt(g,px+14,legendY,s,{size:8.7,fill:tc});
 });
}
txt(svg,218,667,"Therapeutic target pathways",{size:10.9,italic:true,anchor:"middle",fill:"#333"});
boxPanel({names:gTopNames,boxes:gTopBoxes,ligands:gTopLigands,top:731,bottom:827,y:d3.scaleLinear().domain([0,10]).range([736,824]),color:"#f47a50",ticksY:[0,2,4,6,8,10],title:"Expression of Tumor",titleY:780,legendY:812,stars:[["IFNGR2",822]],redText:"#d9453e",onTop:true});
boxPanel({names:gBottomNames,boxes:gBottomBoxes,ligands:gBottomLigands,top:843,bottom:941,y:d3.scaleLinear().domain([0,12]).range([936,860]),color:"#6cb464",ticksY:[0,2,4,6,8,10,12],title:"Expression of TAM",titleY:898,legendY:858,stars:[["CCL3",859],["IL1B",859],["CCR1",859]],redText:"#5cb05a",onTop:false});

/* panel h */
(function(){
 const g=svg.append("g");
 const x=d3.scaleLinear().domain([0,10]).range([507.3,648]);
 const y=d3.scaleLinear().domain([0,8]).range([848.3,724.7]);
 const xlo=-1,xhi=11,ylo=-1.02,yhi=9;
 g.append("clipPath").attr("id","hclip").append("rect").attr("x",x(xlo)).attr("y",y(yhi)).attr("width",x(xhi)-x(xlo)).attr("height",y(ylo)-y(yhi));
 const f=g.append("g").attr("clip-path","url(#hclip)");
 const closed=d3.line().x(d=>x(d[0])).y(d=>y(d[1])).curve(d3.curveCatmullRomClosed.alpha(.5));
 const open=d3.line().x(d=>x(d[0])).y(d=>y(d[1])).curve(d3.curveCatmullRom.alpha(.5));
 hBands.forEach((b,i)=>f.append("path").attr("d",closed(b)).attr("fill",hBandColors[i]));
 hOutlines.forEach(o=>f.append("path").attr("d",open(o)).attr("fill","none").attr("stroke","#c2c2c2").attr("stroke-width",1.2));
 hInnerLines.forEach((o,i)=>f.append("path").attr("d",i==0?closed(o):open(o)).attr("fill","none").attr("stroke","#b9ae8c").attr("stroke-opacity",.85).attr("stroke-width",1.2));
 g.selectAll("circle").data(hPoints).join("circle").attr("cx",d=>x(d[0])).attr("cy",d=>y(d[1])).attr("r",2.2).attr("fill","#333");
 g.append("line").attr("x1",485).attr("x2",485).attr("y1",710).attr("y2",871.7).attr("stroke","#111").attr("stroke-width",1.4);
 g.append("line").attr("x1",485).attr("x2",670).attr("y1",871).attr("y2",871).attr("stroke","#111").attr("stroke-width",1.4);
 g.append("g").attr("transform","translate(0,871)").call(d3.axisBottom(x).tickValues([0,2,4,6,8,10]).tickSize(2.5).tickPadding(2)).call(a=>styleAxis(a,9.5));
 g.append("g").attr("transform","translate(485,0)").call(d3.axisLeft(y).tickValues([0,2,4,6,8]).tickSize(2.5).tickPadding(2)).call(a=>styleAxis(a,9.5));
 txt(g,579,893,"IL1B",{size:10.5,italic:true,anchor:"middle",fill:"#333"});
 txt(g,464,787,"IL10",{size:10.5,italic:true,anchor:"middle",rot:-90,fill:"#333"});
 txt(g,493,933,"Levels",{size:9.5,fill:"#333"});
 const gr=svg.append("defs").append("linearGradient").attr("id","lev");
 [[0,"#f3e63e"],[.35,"#f6b92e"],[.68,"#f38f2a"],[1,"#e53a1e"]].forEach(([o,c])=>gr.append("stop").attr("offset",o).attr("stop-color",c));
 g.append("rect").attr("x",527).attr("y",928).attr("width",107).attr("height",13).attr("fill","url(#lev)");
 const lev=d3.scaleLinear().domain([.01,.02]).range([557,599]);
 [.01,.02].forEach(t=>{
  g.append("line").attr("x1",lev(t)).attr("x2",lev(t)).attr("y1",928).attr("y2",931).attr("stroke","#444").attr("stroke-width",.7);
  g.append("line").attr("x1",lev(t)).attr("x2",lev(t)).attr("y1",938).attr("y2",941).attr("stroke","#444").attr("stroke-width",.7);
  txt(g,lev(t),950,t.toFixed(2),{size:8.3,anchor:"middle",fill:"#444"});
 });
})();
</script></body></html>
